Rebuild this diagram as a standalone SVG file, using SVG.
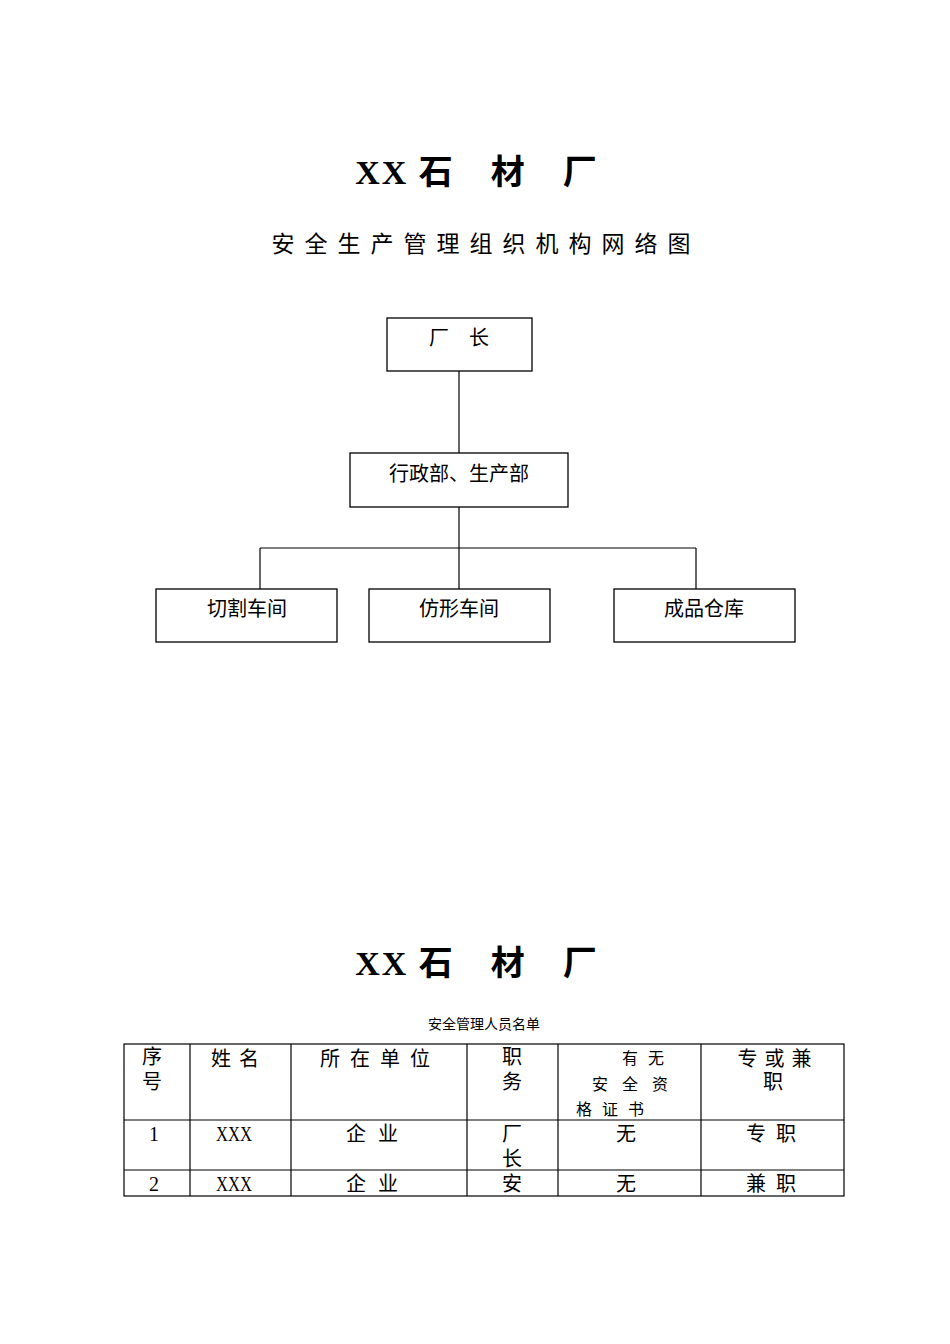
<svg xmlns="http://www.w3.org/2000/svg" width="950" height="1344" viewBox="0 0 950 1344">
<style>
.b{fill:#fff;stroke:#000;stroke-width:1.3}
.t{font-family:"Liberation Serif","Noto Sans CJK SC",serif;fill:#000}
.h{font-family:"Liberation Sans","Noto Sans CJK SC",sans-serif;fill:#000}
.n{font-size:20px;text-anchor:middle}
line{stroke:#000;stroke-width:1.2}
</style>
<rect width="950" height="1344" fill="#fff"/>
<text class="t" x="477" y="184" font-size="34" font-weight="bold" text-anchor="middle" letter-spacing="2">XX 石　材　厂</text>
<text class="t" x="486" y="252" font-size="23" text-anchor="middle" letter-spacing="10">安全生产管理组织机构网络图</text>
<g id="connectors">
<line x1="459" y1="371" x2="459" y2="453"/>
<line x1="459" y1="507" x2="459" y2="589"/>
<line x1="260" y1="548" x2="696" y2="548"/>
<line x1="260" y1="548" x2="260" y2="589"/>
<line x1="696" y1="548" x2="696" y2="589"/>
</g>
<g id="n1"><rect class="b" x="387" y="318" width="145" height="53"/><text class="t n" x="459" y="345">厂　长</text></g>
<g id="n2"><rect class="b" x="350" y="453" width="218" height="54"/><text class="t n" x="459" y="481">行政部、生产部</text></g>
<g id="n3"><rect class="b" x="156" y="589" width="181" height="53"/><text class="t n" x="247" y="616">切割车间</text></g>
<g id="n4"><rect class="b" x="369" y="589" width="181" height="53"/><text class="t n" x="459" y="616">仿形车间</text></g>
<g id="n5"><rect class="b" x="614" y="589" width="181" height="53"/><text class="t n" x="704" y="616">成品仓库</text></g>
<text class="t" x="477" y="975" font-size="34" font-weight="bold" text-anchor="middle" letter-spacing="2">XX 石　材　厂</text>
<text class="t" x="484" y="1029" font-size="14" text-anchor="middle">安全管理人员名单</text>
<g id="table">
<rect x="124" y="1044" width="720" height="152" fill="none" stroke="#000" stroke-width="1.2"/>
<line x1="124" y1="1120" x2="844" y2="1120"/><line x1="124" y1="1170" x2="844" y2="1170"/>
<line x1="190" y1="1044" x2="190" y2="1196"/><line x1="291" y1="1044" x2="291" y2="1196"/>
<line x1="467" y1="1044" x2="467" y2="1196"/><line x1="558" y1="1044" x2="558" y2="1196"/>
<line x1="701" y1="1044" x2="701" y2="1196"/>
<g class="h" font-size="20">
<text x="152" y="1064" text-anchor="middle">序</text><text x="152" y="1089" text-anchor="middle">号</text>
<text x="239" y="1066" text-anchor="middle" letter-spacing="8">姓名</text>
<text x="380" y="1066" text-anchor="middle" letter-spacing="10">所在单位</text>
<text x="512" y="1064" text-anchor="middle">职</text><text x="512" y="1089" text-anchor="middle">务</text>
<text x="778" y="1066" text-anchor="middle" letter-spacing="7">专或兼</text><text x="773" y="1089" text-anchor="middle">职</text>
</g>
<g class="h" font-size="16">
<text x="648" y="1064" text-anchor="middle" letter-spacing="10">有无</text>
<text x="637" y="1090" text-anchor="middle" letter-spacing="14">安全资</text>
<text x="615" y="1115" text-anchor="middle" letter-spacing="10">格证书</text>
</g>
<g class="t" font-size="20" text-anchor="middle">
<text x="154" y="1141">1</text><text x="234" y="1141" textLength="36" lengthAdjust="spacingAndGlyphs">XXX</text><text x="378" y="1141" letter-spacing="12">企业</text>
<text x="512" y="1141">厂</text><text x="512" y="1166">长</text><text x="626" y="1141">无</text><text x="776" y="1141" letter-spacing="10">专职</text>
<text x="154" y="1191">2</text><text x="234" y="1191" textLength="36" lengthAdjust="spacingAndGlyphs">XXX</text><text x="378" y="1191" letter-spacing="12">企业</text>
<text x="512" y="1191">安</text><text x="626" y="1191">无</text><text x="776" y="1191" letter-spacing="10">兼职</text>
</g>
</g>
</svg>
